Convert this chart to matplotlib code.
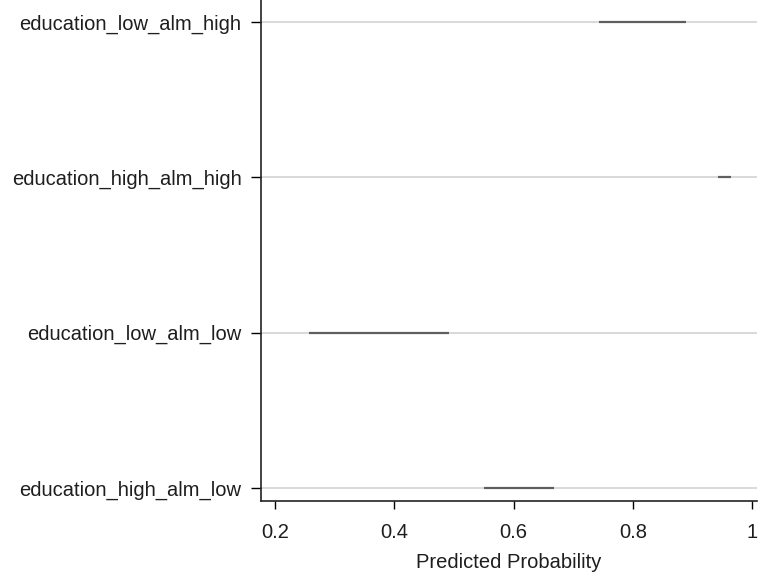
import matplotlib.pyplot as plt

plt.rcParams['font.family'] = ['Liberation Sans', 'DejaVu Sans']

# rows from bottom to top
labels = ["education_high_alm_low", "education_low_alm_low",
          "education_high_alm_high", "education_low_alm_high"]
ci_low = [0.550, 0.257, 0.943, 0.743]
ci_high = [0.668, 0.492, 0.964, 0.889]
xticks = [0.2, 0.4, 0.6, 0.8, 1.0]
xticklabels = ["0.2", "0.4", "0.6", "0.8", "1"]

fig = plt.figure(figsize=(7.58, 5.77), dpi=100)
ax = fig.add_axes([261 / 758, 1 - 501 / 577, 496 / 758, 501 / 577])

ypos = list(range(len(labels)))
for y in ypos:
    ax.axhline(y, color="#d2d4d4", linewidth=1.2, zorder=1)
ax.hlines(ypos, ci_low, ci_high, color="#5f5f5f", linewidth=1.6, zorder=2)

ax.set_xlim(0.1765, 1.008)
ax.set_ylim(-0.084, 3.142)
ax.set_yticks(ypos)
ax.set_yticklabels(labels, fontsize=14.5, color="#1e1e1e")
ax.set_xticks(xticks)
ax.set_xticklabels(xticklabels, fontsize=14.5, color="#1e1e1e")
ax.set_xlabel("Predicted Probability", fontsize=14.5, color="#1e1e1e", labelpad=8)

ax.tick_params(axis="y", length=7, width=1, pad=7)
ax.tick_params(axis="x", length=6, width=1, pad=10)
for side in ("top", "right"):
    ax.spines[side].set_visible(False)
for side in ("left", "bottom"):
    ax.spines[side].set_linewidth(1.2)
    ax.spines[side].set_color("#222222")

fig.savefig("out.png", dpi=100)
